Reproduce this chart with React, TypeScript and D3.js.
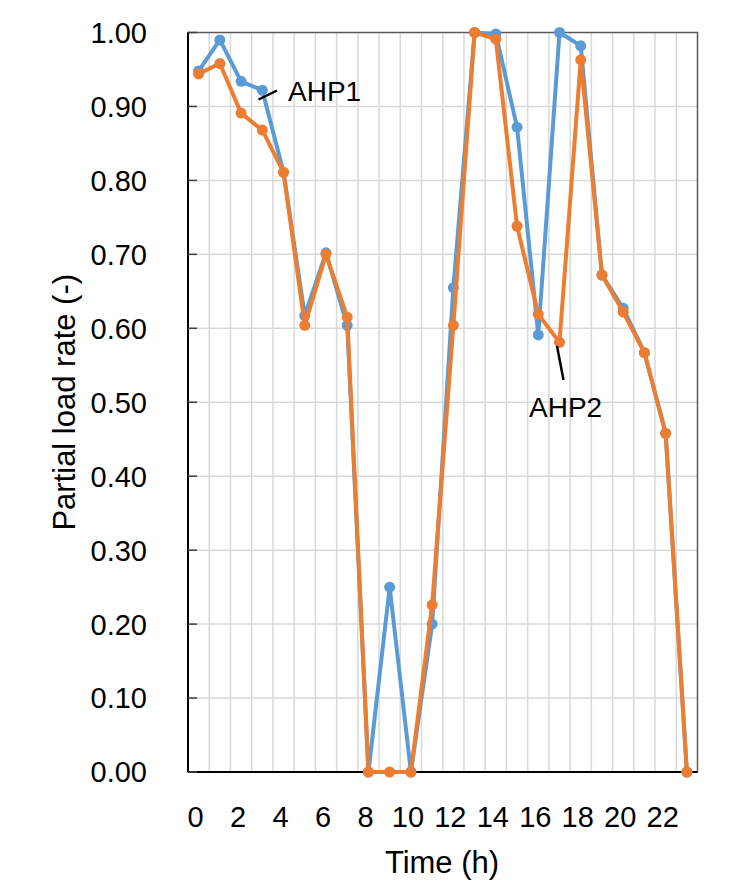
import * as d3 from "d3";

const hours = d3.range(0, 24);
const ahp1 = [0.948, 0.99, 0.934, 0.922, 0.811, 0.617, 0.702, 0.604, 0, 0.25, 0, 0.2,
  0.655, 1.0, 0.998, 0.872, 0.591, 1.0, 0.982, 0.672, 0.627, 0.567, 0.458, 0];
const ahp2 = [0.944, 0.958, 0.891, 0.868, 0.811, 0.604, 0.7, 0.615, 0, 0, 0, 0.226,
  0.604, 1.0, 0.991, 0.738, 0.619, 0.581, 0.963, 0.672, 0.622, 0.567, 0.458, 0];
const yTicks = [0, 0.1, 0.2, 0.3, 0.4, 0.5, 0.6, 0.7, 0.8, 0.9, 1.0];
const xTickLabels = [0, 2, 4, 6, 8, 10, 12, 14, 16, 18, 20, 22];

const W = 732;
const H = 887;
const m = { left: 188, right: 697.5, top: 32.5, bottom: 772 };
const font = "'Liberation Sans', Arial, sans-serif";

const App = () => {
  const x = d3.scaleLinear().domain([-0.5, 23.5]).range([m.left, m.right]);
  const y = d3.scaleLinear().domain([0, 1]).range([m.bottom, m.top]);

  const line = d3
    .line<number>()
    .x((d, i) => x(hours[i]))
    .y((d) => y(d));

  const series = [
    { name: "AHP1", values: ahp1, color: "#5B9BD5" },
    { name: "AHP2", values: ahp2, color: "#ED7D31" },
  ];

  const vGrid = d3.range(0.5, 23, 1);

  return (
    <svg
      width={W}
      height={H}
      style={{ position: "absolute", left: 0, top: 0, background: "#fff" }}
    >
      {/* grid */}
      <g stroke="#D9D9D9" strokeWidth={1.5}>
        {vGrid.map((g) => (
          <line key={"v" + g} x1={x(g)} x2={x(g)} y1={m.top} y2={m.bottom} />
        ))}
        {yTicks.slice(1, -1).map((t) => (
          <line key={"h" + t} x1={m.left} x2={m.right} y1={y(t)} y2={y(t)} />
        ))}
      </g>

      {/* frame */}
      <rect
        x={m.left}
        y={m.top}
        width={m.right - m.left}
        height={m.bottom - m.top}
        fill="none"
        stroke="#595959"
        strokeWidth={1.5}
      />
      <line x1={m.left} x2={m.left} y1={m.top} y2={m.bottom} stroke="#000" strokeWidth={2} />
      <line x1={m.left} x2={m.right} y1={m.bottom} y2={m.bottom} stroke="#000" strokeWidth={2} />
      <g stroke="#404040" strokeWidth={1.5}>
        {yTicks.map((t) => (
          <line key={"t" + t} x1={m.left} x2={m.left + 9} y1={y(t)} y2={y(t)} />
        ))}
      </g>

      {/* y tick labels */}
      <g fontFamily={font} fontSize={29} fill="#000" textAnchor="end">
        {yTicks.map((t) => (
          <text key={"yl" + t} x={147} y={y(t)} dy="0.36em">
            {t.toFixed(2)}
          </text>
        ))}
      </g>

      {/* x tick labels */}
      <g fontFamily={font} fontSize={29} fill="#000" textAnchor="middle">
        {xTickLabels.map((t) => (
          <text key={"xl" + t} x={x(t) - 3} y={827}>
            {t}
          </text>
        ))}
      </g>

      {/* axis titles */}
      <text
        x={442}
        y={873}
        fontFamily={font}
        fontSize={31}
        textAnchor="middle"
      >
        Time (h)
      </text>
      <text
        transform={`translate(75, ${(m.top + m.bottom) / 2}) rotate(-90)`}
        fontFamily={font}
        fontSize={31}
        textAnchor="middle"
      >
        Partial load rate (-)
      </text>

      {/* series */}
      {series.map((s) => (
        <g key={s.name}>
          <path
            d={line(s.values) || ""}
            fill="none"
            stroke={s.color}
            strokeWidth={4}
            strokeLinejoin="round"
          />
          {s.values.map((v, i) => (
            <circle key={i} cx={x(hours[i])} cy={y(v)} r={5.5} fill={s.color} />
          ))}
        </g>
      ))}

      {/* labels */}
      <line x1={258.5} y1={99.5} x2={277} y2={90.5} stroke="#000" strokeWidth={2.5} />
      <text x={288} y={101} fontFamily={font} fontSize={28}>
        AHP1
      </text>
      <line x1={557} y1={346} x2={563.5} y2={380} stroke="#000" strokeWidth={2.5} />
      <text x={529} y={417} fontFamily={font} fontSize={28}>
        AHP2
      </text>
    </svg>
  );
};

export default App;
